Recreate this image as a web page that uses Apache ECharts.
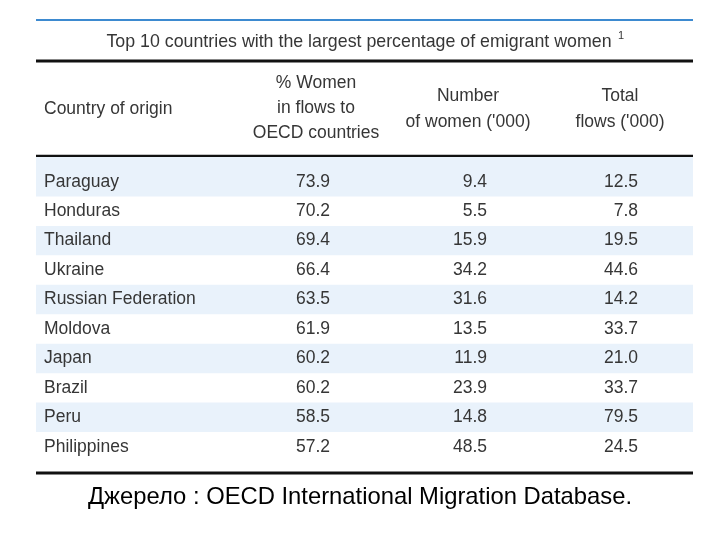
<!DOCTYPE html>
<html><head><meta charset="utf-8">
<script src="https://cdn.jsdelivr.net/npm/echarts@6/dist/echarts.min.js"></script>
<style>html,body{margin:0;padding:0;background:#fff}#c{width:720px;height:540px}</style>
</head><body><div id="c"></div>
<script>
const countries = ["Paraguay","Honduras","Thailand","Ukraine","Russian Federation","Moldova","Japan","Brazil","Peru","Philippines"];
const pctWomen = ["73.9","70.2","69.4","66.4","63.5","61.9","60.2","60.2","58.5","57.2"];
const numWomen = ["9.4","5.5","15.9","34.2","31.6","13.5","11.9","23.9","14.8","48.5"];
const totalFlows = ["12.5","7.8","19.5","44.6","14.2","33.7","21.0","33.7","79.5","24.5"];
const titleText = "Top 10 countries with the largest percentage of emigrant women";
const sourceText = "Джерело : OECD International Migration Database.";

const FONT = '"Liberation Sans",Arial,sans-serif';
const TXT = '#363636';
const BAND = '#e9f2fb';
const L = 36, R = 693;
const colCountry = 44, colPct = 330, colNum = 487, colTot = 638;
const FS = 17.5;

const rows = countries.map((c, i) => [0, i, c, pctWomen[i], numWomen[i], totalFlows[i]]);

function txt(x, y, s, align, size) {
  return {type:'text', x:x, y:y, style:{text:s, x:0, y:0, align:align, verticalAlign:'middle', fill:TXT, font:(size||FS)+'px ' + FONT}};
}

const chart = echarts.init(document.getElementById('c'), null, {renderer:'canvas'});
chart.setOption({
  animation:false,
  backgroundColor:'#fff',
  grid:{left:L, right:720-R, top:167, bottom:78.5},
  xAxis:{type:'value', min:0, max:1, show:false},
  yAxis:{type:'category', data:countries, inverse:true, show:false},
  series:[{
    type:'custom',
    data:rows,
    encode:{x:0, y:1},
    renderItem:function(params, api){
      const idx = api.value(1);
      const p = api.coord([0, idx]);
      const h = api.size([0, 1])[1];
      const y = p[1];
      const ch = [];
      if (idx % 2 === 0) {
        const ext = idx === 0 ? 10 : 0;
        ch.push({type:'rect', shape:{x:L, y:y - h/2 - ext, width:R-L, height:h + ext}, style:{fill:BAND}});
      }
      const d = rows[idx];
      ch.push(txt(colCountry, y, d[2], 'left'));
      ch.push(txt(colPct, y, d[3], 'right'));
      ch.push(txt(colNum, y, d[4], 'right'));
      ch.push(txt(colTot, y, d[5], 'right'));
      return {type:'group', children:ch};
    }
  }],
  graphic:[
    {type:'line', shape:{x1:L, y1:20, x2:R, y2:20}, style:{stroke:'#3d8ad0', lineWidth:2}},
    {type:'text', x:359, y:42, style:{text:titleText, align:'center', verticalAlign:'middle', fill:TXT, font:'17.8px ' + FONT}},
    {type:'text', x:621, y:36, style:{text:'1', align:'center', verticalAlign:'middle', fill:TXT, font:'11px ' + FONT}},
    {type:'line', shape:{x1:L, y1:61, x2:R, y2:61}, style:{stroke:'#111', lineWidth:3}},
    {type:'text', x:colCountry, y:109, style:{text:'Country of origin', align:'left', verticalAlign:'middle', fill:TXT, font:FS+'px ' + FONT}},
    {type:'text', x:316, y:83, style:{text:'% Women', align:'center', verticalAlign:'middle', fill:TXT, font:FS+'px ' + FONT}},
    {type:'text', x:316, y:108, style:{text:'in flows to', align:'center', verticalAlign:'middle', fill:TXT, font:FS+'px ' + FONT}},
    {type:'text', x:316, y:133, style:{text:'OECD countries', align:'center', verticalAlign:'middle', fill:TXT, font:FS+'px ' + FONT}},
    {type:'text', x:468, y:96, style:{text:'Number', align:'center', verticalAlign:'middle', fill:TXT, font:FS+'px ' + FONT}},
    {type:'text', x:468, y:122, style:{text:"of women ('000)", align:'center', verticalAlign:'middle', fill:TXT, font:FS+'px ' + FONT}},
    {type:'text', x:620, y:96, style:{text:'Total', align:'center', verticalAlign:'middle', fill:TXT, font:FS+'px ' + FONT}},
    {type:'text', x:620, y:122, style:{text:"flows ('000)", align:'center', verticalAlign:'middle', fill:TXT, font:FS+'px ' + FONT}},
    {type:'line', shape:{x1:L, y1:156, x2:R, y2:156}, style:{stroke:'#111', lineWidth:2.5}},
    {type:'line', shape:{x1:L, y1:473, x2:R, y2:473}, style:{stroke:'#111', lineWidth:3}},
    {type:'text', x:360, y:497, style:{text:sourceText, align:'center', verticalAlign:'middle', fill:'#000', font:'23.8px "Liberation Sans",Arial,sans-serif'}}
  ]
});
</script>
</body></html>
